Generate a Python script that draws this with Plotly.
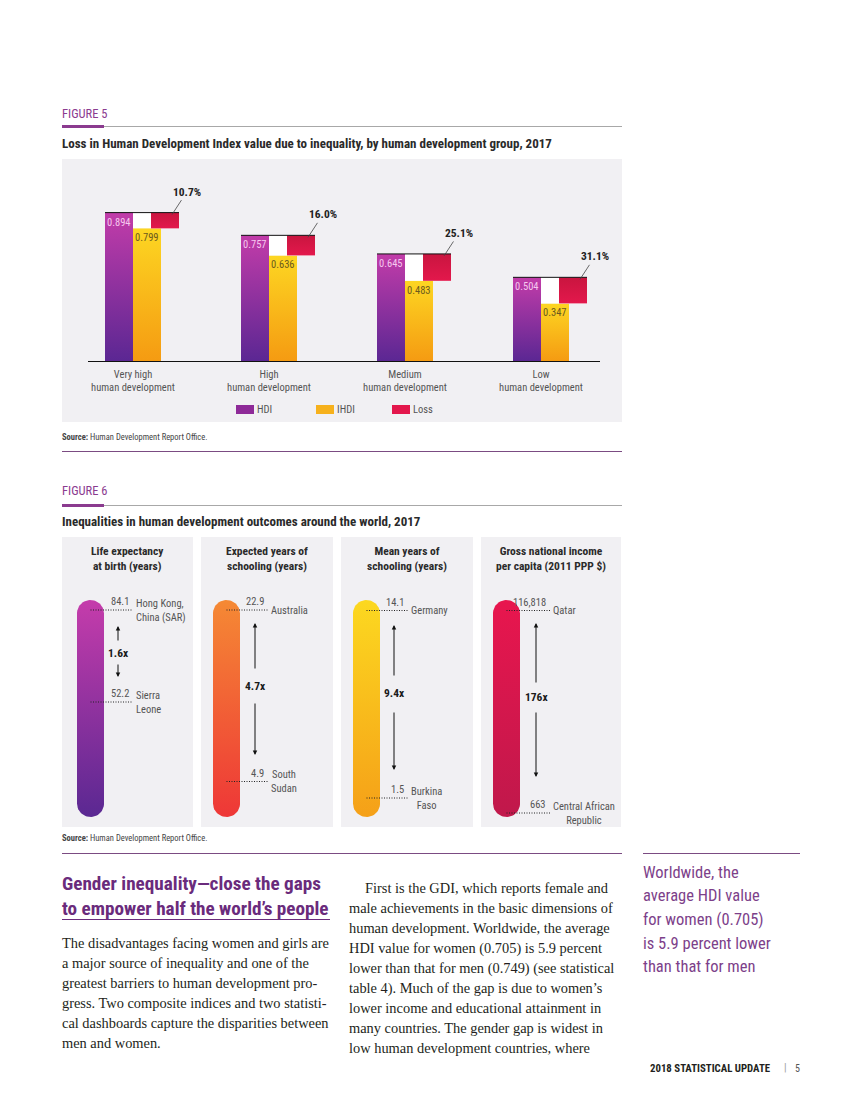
import plotly.graph_objects as go
import numpy as np

W, H = 850, 1100
SANS = "Roboto Condensed, Liberation Sans Narrow, Roboto, sans-serif"
SERIF = "Liberation Serif, DejaVu Serif, serif"

# ---------------- Figure 5 data ----------------
groups = ["Very high<br>human development", "High<br>human development",
          "Medium<br>human development", "Low<br>human development"]
hdi = [0.894, 0.757, 0.645, 0.504]
ihdi = [0.799, 0.636, 0.483, 0.347]
loss_pct = [10.7, 16.0, 25.1, 31.1]
legend_names = ["HDI", "IHDI", "Loss"]

# ---------------- Figure 6 data ----------------
panel_titles = ["Life expectancy<br>at birth (years)", "Expected years of<br>schooling (years)",
                "Mean years of<br>schooling (years)", "Gross national income<br>per capita (2011 PPP $)"]
top_vals = [84.1, 22.9, 14.1, 116818]
top_countries = ["Hong Kong,<br>China (SAR)", "Australia", "Germany", "Qatar"]
bottom_vals = [52.2, 4.9, 1.5, 663]
bottom_countries = ["Sierra<br>Leone", "South<br>Sudan", "Burkina<br>Faso", "Central African<br>Republic"]
ratios = ["1.6x", "4.7x", "9.4x", "176x"]

# ---------------- text ----------------
heading = ["Gender inequality\u2014close the gaps", "to empower half the world\u2019s people"]
col1 = ["The disadvantages facing women and girls are",
        "a major source of inequality and one of the",
        "greatest barriers to human development pro-",
        "gress. Two composite indices and two statisti-",
        "cal dashboards capture the disparities between",
        "men and women."]
col2 = ["First is the GDI, which reports female and",
        "male achievements in the basic dimensions of",
        "human development. Worldwide, the average",
        "HDI value for women (0.705) is 5.9 percent",
        "lower than that for men (0.749) (see statistical",
        "table 4). Much of the gap is due to women\u2019s",
        "lower income and educational attainment in",
        "many countries. The gender gap is widest in",
        "low human development countries, where"]
sidebar = ["Worldwide, the", "average HDI value", "for women (0.705)",
           "is 5.9 percent lower", "than that for men"]

# ---------------- helpers ----------------
def PX(p):
    return p / W

def PY(p):
    return 1 - p / H

annotations = []
shapes = []

def T(text, x, y, size, color="#333333", bold=False, font=SANS, xanchor="left",
      yanchor="middle", align="left"):
    if bold:
        text = "<b>" + text + "</b>"
    xs = {"left": -2, "right": 2, "center": 0}[xanchor]
    annotations.append(dict(text=text, x=PX(x), y=PY(y), xref="paper", yref="paper",
                            showarrow=False, xanchor=xanchor, yanchor=yanchor, align=align,
                            xshift=xs, font=dict(family=font, size=size, color=color)))

def rect(x0, y0, x1, y1, color, layer="below"):
    shapes.append(dict(type="rect", xref="paper", yref="paper", x0=PX(x0), x1=PX(x1),
                       y0=PY(y0), y1=PY(y1), fillcolor=color, line=dict(width=0), layer=layer))

def hline(x0, x1, y, color, width=1):
    shapes.append(dict(type="line", xref="paper", yref="paper", x0=PX(x0), x1=PX(x1),
                       y0=PY(y), y1=PY(y), line=dict(color=color, width=width)))

PURPLE = "#8b3b8f"
fig = go.Figure()

# ---------------- Figure 5 ----------------
T("FIGURE 5", 62, 113, 12.5, PURPLE)
hline(62, 622, 126.5, "#a8a8a8", 1)
hline(62, 104, 126.5, PURPLE, 3)
T("Loss in Human Development Index value due to inequality, by human development group, 2017",
  62, 143, 13, "#2a2a2a", bold=True)
rect(62, 159, 622, 422, "#f1f0f3")

GS = 136.0   # px per group unit
BW = 28.0    # bar width px
HDI_C = ("#5b2793", "#c23ca9")
IHDI_C = ("#f59b12", "#fdd622")
LOSS_C = ("#e3184c", "#c9153f")

def poly_bar(x0, x1, y0, y1, cols, xa="x", ya="y", solid=None):
    kw = dict(x=[x0, x0, x1, x1, x0], y=[y0, y1, y1, y0, y0], mode="lines",
              fill="toself", line=dict(width=0), hoverinfo="skip", showlegend=False,
              xaxis=xa, yaxis=ya)
    if solid:
        kw["fillcolor"] = solid
    else:
        kw["fillcolor"] = cols[1]
        kw["fillgradient"] = dict(type="vertical", colorscale=[[0, cols[0]], [1, cols[1]]])
    fig.add_trace(go.Scatter(**kw))

for i in range(len(groups)):
    h, ih = hdi[i], ihdi[i]
    poly_bar(i - BW / GS, i, 0, h, HDI_C)
    poly_bar(i, i + BW / GS, 0, ih, IHDI_C)
    poly_bar(i, i + (18 + BW) / GS, ih, h, None, solid="#ffffff")
    poly_bar(i + 18 / GS, i + (18 + BW) / GS, ih, h, LOSS_C)
    fig.add_trace(go.Scatter(x=[i - BW / GS, i + (18 + BW) / GS], y=[h, h], mode="lines",
                             line=dict(color="#111111", width=1), hoverinfo="skip",
                             showlegend=False, xaxis="x", yaxis="y"))
    annotations.append(dict(text=f"{h:.3f}", x=i - BW / GS, y=h, xref="x", yref="y",
                            showarrow=False, xanchor="left", yanchor="top", yshift=-1,
                            font=dict(family=SANS, size=10.5, color="#f6c8ef")))
    annotations.append(dict(text=f"{ih:.3f}", x=i, y=ih, xref="x", yref="y",
                            showarrow=False, xanchor="left", yanchor="top", yshift=-1,
                            font=dict(family=SANS, size=10.5, color="#6b5a1e")))
    annotations.append(dict(text=f"<b>{loss_pct[i]:.1f}%</b>", x=i + (18 + BW / 2 + 7) / GS,
                            y=h - 2 / 166.0, xref="x", yref="y", showarrow=True, arrowhead=0,
                            arrowwidth=0.8, arrowcolor="#444444", ax=15, ay=-23, standoff=0,
                            font=dict(family=SANS, size=11.5, color="#222222")))

# legend
leg_cols = ["#8e2a98", "#f6b11c", "#e3174c"]
leg_x = [236, 316, 392]
for name, c, lx in zip(legend_names, leg_cols, leg_x):
    rect(lx, 405, lx + 18, 414, c, layer="above")
    T(name, lx + 21, 409.5, 10.5, "#555555")

T("<b>Source:</b> Human Development Report Office.", 62, 437, 8.5, "#444444")
hline(62, 622, 451.5, "#7b4b82", 1)

# ---------------- Figure 6 ----------------
T("FIGURE 6", 62, 491, 12.5, PURPLE)
hline(62, 622, 505.5, "#a8a8a8", 1)
hline(62, 104, 505.5, PURPLE, 3)
T("Inequalities in human development outcomes around the world, 2017",
  62, 521, 13, "#2a2a2a", bold=True)

p_left = [62, 201, 341, 481]
p_right = [193, 333, 473, 621]
bar_off = [15, 12, 12, 12]
line_end = [71, 67, 67, 69]
top_py = [610, 610, 610.5, 610.5]
bot_py = [702, 781.5, 798, 813]
arrow_off = [56, 54, 53, 55]
arr = [(626, 642, 663, 677, 653), (623, 670, 702, 755, 686),
       (625, 677, 711, 770, 693), (623, 684, 711, 777, 697)]
cap_cols = [("#5a2892", "#c53cab"), ("#ee3737", "#f58934"),
            ("#f5a018", "#fcd820"), ("#c0184b", "#e8164e")]
BAR_TOP, BAR_BOT = 600, 817

for j in range(4):
    pl, pr = p_left[j], p_right[j]
    rect(pl, 537, pr, 827, "#f1f0f3")
    T(panel_titles[j], (pl + pr) / 2, 558, 11.5, "#2a2a2a", bold=True, xanchor="center",
      align="center")
    is_log = j == 3
    f = (np.log10 if is_log else (lambda v: v))
    t, b = f(top_vals[j]), f(bottom_vals[j])
    k = (bot_py[j] - top_py[j]) / (t - b)
    r_top = t + (top_py[j] - BAR_TOP) / k
    r_bot = b - (BAR_BOT - bot_py[j]) / k

    def p2d(py, r_top=r_top, k=k, is_log=is_log):
        v = r_top - (py - BAR_TOP) / k
        return 10 ** v if is_log else v

    xa, ya = f"x{j + 2}", f"y{j + 2}"
    fig.update_layout(**{
        f"xaxis{j + 2}": dict(domain=[PX(pl), PX(pr)], range=[0, pr - pl], visible=False,
                              fixedrange=True),
        f"yaxis{j + 2}": dict(domain=[PY(BAR_BOT), PY(BAR_TOP)], range=[r_bot, r_top],
                              type="log" if is_log else "linear", visible=False,
                              fixedrange=True, anchor=xa),
    })
    # capsule track
    r = 13.5
    cx = bar_off[j] + r
    th = np.linspace(0, np.pi, 30)
    xs = list(cx + r * np.cos(th)) + list(cx + r * np.cos(th + np.pi))
    pys = list(BAR_TOP + r - r * np.sin(th)) + list(BAR_BOT - r - r * np.sin(th + np.pi))
    xs.append(xs[0]); pys.append(pys[0])
    fig.add_trace(go.Scatter(x=xs, y=[p2d(p) for p in pys], mode="lines", fill="toself",
                             line=dict(width=0), fillcolor=cap_cols[j][1],
                             fillgradient=dict(type="vertical",
                                               colorscale=[[0, cap_cols[j][0]], [1, cap_cols[j][1]]]),
                             hoverinfo="skip", showlegend=False, xaxis=xa, yaxis=ya))
    # dotted value lines
    for v, ctry in ((top_vals[j], top_countries[j]), (bottom_vals[j], bottom_countries[j])):
        fig.add_trace(go.Scatter(x=[cx, line_end[j]], y=[v, v], mode="lines",
                                 line=dict(color="#222222", width=1, dash="1px,1.5px"),
                                 hoverinfo="skip", showlegend=False, xaxis=xa, yaxis=ya))
        lab = f"{v:,.0f}" if v >= 100 else f"{v:.1f}"
        annotations.append(dict(text=lab, x=line_end[j] - 2, y=np.log10(v) if is_log else v,
                                xref=xa, yref=ya, showarrow=False, xanchor="right",
                                yanchor="bottom", yshift=0,
                                font=dict(family=SANS, size=10.5, color="#555555")))
        annotations.append(dict(text=ctry, x=line_end[j] + 1, y=np.log10(v) if is_log else v,
                                xref=xa, yref=ya, showarrow=False, xanchor="left",
                                yanchor="middle", align="left" if j == 0 else "center",
                                font=dict(family=SANS, size=10.5, color="#555555")))
    # ratio arrows
    ax_ = pl + arrow_off[j]
    up_tip, up_tail, dn_tail, dn_tip, lab_y = arr[j]
    for tip, tail in ((up_tip, up_tail), (dn_tip, dn_tail)):
        annotations.append(dict(text="", x=PX(ax_), y=PY(tip), xref="paper", yref="paper",
                                showarrow=True, arrowhead=2, arrowsize=0.9, arrowwidth=1,
                                arrowcolor="#111111", ax=0, ay=tail - tip, standoff=0))
    T(ratios[j], ax_, lab_y, 11.5, "#1a1a1a", bold=True, xanchor="center")

T("<b>Source:</b> Human Development Report Office.", 62, 838, 8.5, "#444444")
hline(62, 622, 853.5, "#7b4b82", 1)

# ---------------- text section ----------------
HEAD_C = "#6a2b7c"
T("<br>".join(heading), 62, 895.5, 19.2, HEAD_C, bold=True)
hline(62, 330, 919.5, HEAD_C, 1)
for i, line in enumerate(col1):
    T(line, 62, 943 + 19.9 * i, 14.4, "#231f20", font=SERIF)
for i, line in enumerate(col2):
    T(line, 365 if i == 0 else 349, 888 + 20 * i, 14.4, "#231f20", font=SERIF)
hline(643, 800, 853.5, "#7b4b82", 1)
for i, line in enumerate(sidebar):
    T(line, 643, 872 + 23.7 * i, 16.5, "#7d3f8a")
T("2018 STATISTICAL UPDATE", 650, 1068, 10.8, "#231f20", bold=True)
T("|", 785, 1067, 10.5, "#999999", xanchor="center")
T("5", 797, 1068, 10, "#555555", xanchor="center")

fig.update_layout(
    width=W, height=H, margin=dict(l=0, r=0, t=0, b=0),
    paper_bgcolor="#ffffff", plot_bgcolor="rgba(0,0,0,0)",
    xaxis=dict(domain=[PX(88), PX(600)], range=[-45 / GS, 467 / GS], showline=True,
               linecolor="#111111", linewidth=1, showgrid=False, zeroline=False,
               tickvals=list(range(len(groups))), ticktext=groups, ticks="outside",
               ticklen=3, tickcolor="rgba(0,0,0,0)", fixedrange=True,
               tickfont=dict(family=SANS, size=10.5, color="#555555")),
    yaxis=dict(domain=[PY(361), PY(195)], range=[0, 1.0], visible=False, fixedrange=True),
    annotations=annotations, shapes=shapes, showlegend=False,
)

fig.write_html("out.html", config={"displayModeBar": False},
               post_script="document.body.style.margin='0px';")
